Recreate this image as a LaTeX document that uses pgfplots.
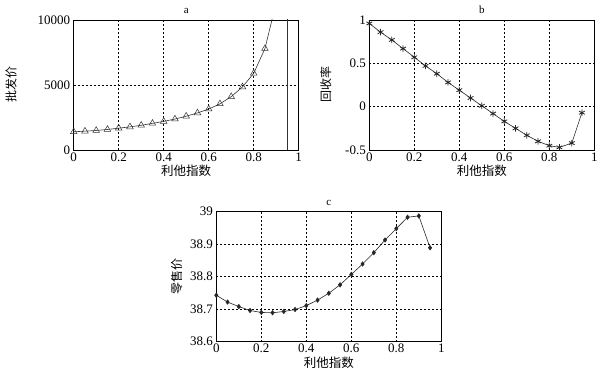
\documentclass[border=0pt]{standalone}
\usepackage{pgfplots}
\pgfplotsset{compat=1.18}
\usepackage{fontspec}
\setmainfont{Liberation Serif}
\newfontfamily\cjk{Noto Sans CJK SC}
\begin{document}
\begin{tikzpicture}
\pgfplotsset{
  every axis/.append style={
    scale only axis, width=225pt, height=130pt,
    xmin=0, xmax=1,
    xtick={0,0.2,0.4,0.6,0.8,1},
    grid=major,
    major grid style={black, dash pattern=on 2pt off 2pt, line width=0.5pt},
    axis line style={line width=0.6pt},
    tick style={draw=none},
    /pgf/number format/assume math mode=true,
    tick label style={font=\fontsize{13}{15}\selectfont},
    xlabel style={font=\cjk\fontsize{12.5}{14}\selectfont, yshift=3pt},
    ylabel style={font=\cjk\fontsize{12}{14}\selectfont},
    title style={font=\fontsize{11}{13}\selectfont, yshift=-3pt},
    xlabel={利他指数},
    xticklabel style={yshift=1pt},
  }
}
\useasboundingbox (-73.7pt,-224pt) rectangle (533.3pt,150pt);
% a
\begin{axis}[at={(0pt,0pt)}, anchor=south west, title={a},
  ymin=0, ymax=10000, ytick={0,5000,10000},
  scaled y ticks=false, yticklabel style={/pgf/number format/1000 sep={}},
  ylabel={批发价}, ylabel style={yshift=14pt}, clip=true]
\addplot[black!80, line width=0.6pt] coordinates {
(0,1400)(0.05,1450)(0.1,1500)(0.15,1580)(0.2,1680)(0.25,1780)(0.3,1900)(0.35,2050)
(0.4,2200)(0.45,2380)(0.5,2600)(0.55,2850)(0.6,3150)(0.65,3550)(0.7,4100)(0.75,4850)
(0.8,5900)(0.85,7800)(0.9,11350)};
\addplot[only marks, mark=triangle, mark size=3.8pt, mark options={black!80, fill=white, line width=0.5pt}] coordinates {
(0,1400)(0.05,1450)(0.1,1500)(0.15,1580)(0.2,1680)(0.25,1780)(0.3,1900)(0.35,2050)
(0.4,2200)(0.45,2380)(0.5,2600)(0.55,2850)(0.6,3150)(0.65,3550)(0.7,4100)(0.75,4850)
(0.8,5900)(0.85,7800)};
\addplot[black!80, line width=0.6pt] coordinates {(0.948,-1000)(0.948,11000)};
\end{axis}
% b
\begin{axis}[at={(295.6pt,0pt)}, anchor=south west, title={b},
  ymin=-0.5, ymax=1, ytick={-0.5,0,0.5,1},
  ylabel={回收率}, ylabel style={yshift=7pt}]
\addplot[black!85, line width=0.6pt, mark=asterisk, mark size=3.3pt, mark options={line width=0.8pt}] coordinates {
(0,0.96)(0.05,0.86)(0.1,0.77)(0.15,0.67)(0.2,0.57)(0.25,0.47)(0.3,0.38)(0.35,0.28)
(0.4,0.19)(0.45,0.10)(0.5,0.01)(0.55,-0.08)(0.6,-0.17)(0.65,-0.25)(0.7,-0.33)
(0.75,-0.40)(0.8,-0.45)(0.845,-0.47)(0.9,-0.42)(0.945,-0.07)};
\end{axis}
% c
\begin{axis}[at={(142.6pt,-191.7pt)}, anchor=south west, title={c},
  ymin=38.6, ymax=39, ytick={38.6,38.7,38.8,38.9,39},
  yticklabel style={/pgf/number format/.cd, fixed, precision=1},
  ylabel={零售价}, ylabel style={yshift=1pt}]
\addplot[black!85, line width=0.6pt, mark=diamond*, mark size=2.2pt] coordinates {
(0,38.743)(0.05,38.722)(0.1,38.708)(0.15,38.696)(0.2,38.690)(0.25,38.689)(0.3,38.693)
(0.35,38.699)(0.4,38.711)(0.45,38.728)(0.5,38.749)(0.55,38.775)(0.6,38.807)(0.65,38.839)
(0.7,38.874)(0.75,38.913)(0.8,38.948)(0.85,38.983)(0.9,38.987)(0.95,38.889)};
\end{axis}
\end{tikzpicture}
\end{document}
